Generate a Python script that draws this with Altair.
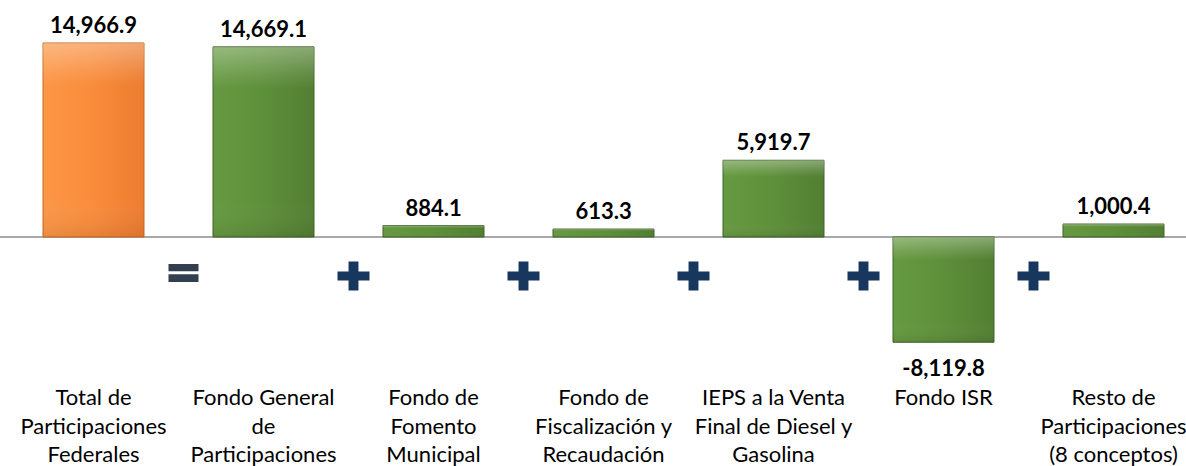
import altair as alt
import pandas as pd

categories = [
    "Total de\nParticipaciones\nFederales",
    "Fondo General\nde\nParticipaciones",
    "Fondo de\nFomento\nMunicipal",
    "Fondo de\nFiscalización y\nRecaudación",
    "IEPS a la Venta\nFinal de Diesel y\nGasolina",
    "Fondo ISR",
    "Resto de\nParticipaciones\n(8 conceptos)",
]
values = [14966.9, 14669.1, 884.1, 613.3, 5919.7, -8119.8, 1000.4]
kinds = ["total", "comp", "comp", "comp", "comp", "comp", "comp"]
operators = ["=", "+", "+", "+", "+", "+"]

df = pd.DataFrame({"cat": categories, "value": values, "kind": kinds})
ops = pd.DataFrame({"cat": categories[:len(operators)], "op": operators})

FONT = "Lato"
x_scale = alt.Scale(domain=categories, range=[8.5, 1198.5],
                    paddingInner=0.406, paddingOuter=0.203)
y_scale = alt.Scale(domain=[-17667, 18284], range=[466, 0], nice=False, zero=False)

X = alt.X("cat:N", scale=x_scale, axis=None)
Y = alt.Y("value:Q", scale=y_scale, axis=None)

base = alt.Chart(df).transform_calculate(
    label="replace(format(datum.value, ',.1f'), '\u2212', '-')"
)

zero_line = alt.Chart(pd.DataFrame({"zero": [0]})).mark_rule(
    color="#8C8C8C", strokeWidth=1.5
).encode(y=alt.Y("zero:Q", scale=y_scale, axis=None))

orange_grad = alt.Gradient(
    gradient="linear", x1=0, x2=1, y1=0, y2=0,
    stops=[alt.GradientStop(color="#FB9747", offset=0),
           alt.GradientStop(color="#F98C3B", offset=0.5),
           alt.GradientStop(color="#EC7C30", offset=1)])
green_grad = alt.Gradient(
    gradient="linear", x1=0, x2=1, y1=0, y2=0,
    stops=[alt.GradientStop(color="#669A41", offset=0),
           alt.GradientStop(color="#5E8F3A", offset=0.5),
           alt.GradientStop(color="#527F32", offset=1)])
shade_grad = alt.Gradient(
    gradient="linear", x1=0, x2=0, y1=0, y2=1,
    stops=[alt.GradientStop(color="rgba(255,255,255,0.32)", offset=0),
           alt.GradientStop(color="rgba(255,255,255,0.1)", offset=0.14),
           alt.GradientStop(color="rgba(255,255,255,0)", offset=0.22),
           alt.GradientStop(color="rgba(255,255,255,0)", offset=0.8),
           alt.GradientStop(color="rgba(0,0,0,0.08)", offset=1)])

bars_total = base.transform_filter(alt.datum.kind == "total").mark_bar(
    color=orange_grad, stroke="#C8661F", strokeWidth=1
).encode(x=X, y=Y, y2=alt.datum(0))
bars_comp = base.transform_filter(alt.datum.kind == "comp").mark_bar(
    color=green_grad, stroke="#3E6126", strokeWidth=1
).encode(x=X, y=Y, y2=alt.datum(0))
bars_shade = base.mark_bar(color=shade_grad).encode(x=X, y=Y, y2=alt.datum(0))

val_pos = base.transform_filter(alt.datum.value >= 0).mark_text(
    font=FONT, fontWeight="bold", fontSize=22, color="#000000",
    baseline="alphabetic", dy=-10
).encode(x=X, y=Y, text="label:N")
val_neg = base.transform_filter(alt.datum.value < 0).mark_text(
    font=FONT, fontWeight="bold", fontSize=22, color="#000000",
    baseline="alphabetic", dy=34
).encode(x=X, y=Y, text="label:N")

cat_labels = base.mark_text(
    font=FONT, fontSize=22, color="#000000", baseline="alphabetic",
    lineBreak="\n", lineHeight=28.5, align="center"
).encode(x=X, y=alt.value(405), text="cat:N")

eq_path = "M -1 -0.6 L 1 -0.6 L 1 -0.12 L -1 -0.12 Z M -1 0.08 L 1 0.08 L 1 0.6 L -1 0.6 Z"
plus_path = ("M -1 -0.28 L -0.31 -0.28 L -0.31 -0.9 L 0.31 -0.9 L 0.31 -0.28 "
             "L 1 -0.28 L 1 0.28 L 0.31 0.28 L 0.31 0.9 L -0.31 0.9 L -0.31 0.28 "
             "L -1 0.28 Z")

op_base = alt.Chart(ops)
eq_marks = op_base.transform_filter(alt.datum.op == "=").mark_point(
    shape=eq_path, filled=True, color="#333F50", opacity=1, size=900,
    xOffset=90
).encode(x=X, y=alt.value(273))
plus_marks = op_base.transform_filter(alt.datum.op == "+").mark_point(
    shape=plus_path, filled=True, color="#17375E", opacity=1, size=1024,
    xOffset=90
).encode(x=X, y=alt.value(276))

chart = alt.layer(
    zero_line, bars_total, bars_comp, bars_shade, val_pos, val_neg,
    cat_labels, eq_marks, plus_marks
).properties(
    width=1186, height=466, padding=0,
    autosize=alt.AutoSizeParams(type="none"),
    background="white"
).configure_view(strokeWidth=0)

chart.save("out.html", embed_options={"renderer": "svg", "actions": False})
